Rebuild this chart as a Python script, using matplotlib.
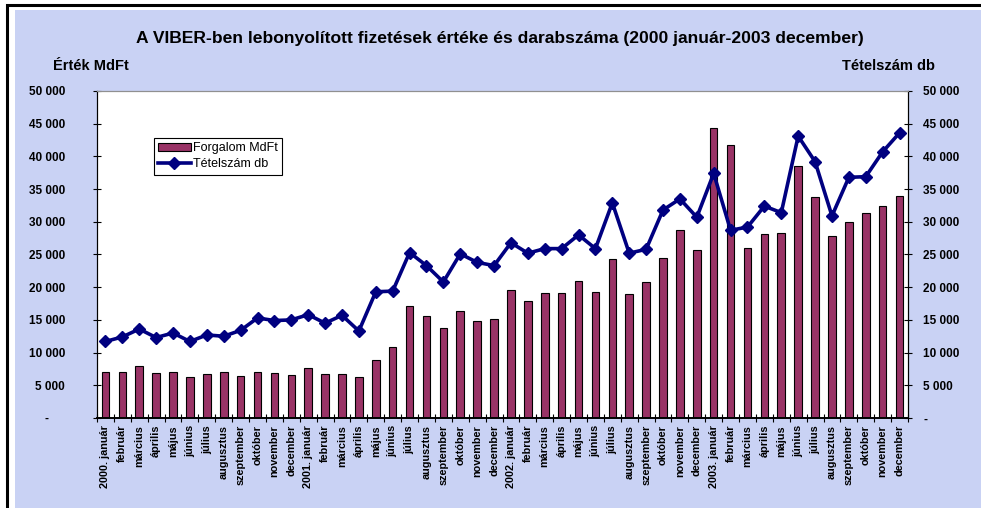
import numpy as np
import matplotlib
matplotlib.use("Agg")
import matplotlib.pyplot as plt
from matplotlib.patches import Rectangle
from matplotlib.ticker import FixedLocator, FuncFormatter

plt.rcParams['font.family'] = ['Liberation Sans', 'DejaVu Sans']

months = ["január", "február", "március", "április", "május", "június",
          "július", "augusztus", "szeptember", "október", "november", "december"]
years = [2000, 2001, 2002, 2003]
labels = []
for y in years:
    for i, m in enumerate(months):
        labels.append(f"{y}. {m}" if i == 0 else m)

# Forgalom MdFt (bars)
forgalom = [7000, 7000, 7900, 6900, 7000, 6300, 6700, 7100, 6400, 7000, 6900, 6600,
            7700, 6700, 6700, 6200, 8800, 10900, 17200, 15600, 13700, 16400, 14900, 15200,
            19500, 17900, 19100, 19100, 20900, 19300, 24300, 18900, 20800, 24500, 28800, 25700,
            44400, 41800, 26000, 28100, 28300, 38500, 33800, 27900, 30000, 31400, 32400, 33900]

# Tételszám db (line)
tetelszam = [11700, 12400, 13600, 12300, 13000, 11700, 12700, 12500, 13400, 15300, 14900, 15000,
             15800, 14500, 15700, 13300, 19300, 19400, 25300, 23300, 20800, 25100, 23800, 23300,
             26800, 25200, 25900, 25900, 28000, 25900, 32900, 25200, 25800, 31800, 33500, 30700,
             37400, 28700, 29200, 32400, 31400, 43100, 39200, 30900, 36800, 36900, 40700, 43600]

W, H = 981, 508
fig = plt.figure(figsize=(W / 100, H / 100), dpi=100)
fig.patch.set_facecolor("white")

# outer frame and background
fig.patches.append(Rectangle((15 / W, 0), 1, 1 - 10 / H, transform=fig.transFigure,
                             facecolor="#c9d2f4", edgecolor="none", zorder=-2))
fig.patches.append(Rectangle((7 / W, -0.1), 1.2, 1 - 5 / H + 0.1, transform=fig.transFigure,
                             fill=False, edgecolor="black", linewidth=2.2, zorder=-1))

ax = fig.add_axes([97 / W, 1 - 418 / H, (908 - 97) / W, (418 - 91) / H])
ax.set_facecolor("white")
x = np.arange(len(labels))
bars = ax.bar(x, forgalom, width=0.45, color="#993366", edgecolor="black", linewidth=0.8,
              label="Forgalom MdFt", zorder=2)
ax.set_xlim(-0.5, len(labels) - 0.5)
ax.set_ylim(0, 50000)

ax2 = ax.twinx()
line, = ax2.plot(x, tetelszam, color="#000080", linewidth=2.6, marker="D", markersize=6.5,
                 label="Tételszám db", zorder=3)
ax2.set_ylim(0, 50000)

yt = np.arange(0, 50001, 5000)
fmt_left = FuncFormatter(lambda v, p: "-     " if v == 0 else f"{int(v):,}".replace(",", " "))
fmt_right = FuncFormatter(lambda v, p: "-" if v == 0 else f"{int(v):,}".replace(",", " "))
ax.set_yticks(yt)
ax.yaxis.set_major_formatter(fmt_left)
ax2.set_yticks(yt)
ax2.yaxis.set_major_formatter(fmt_right)
ax.tick_params(axis="y", direction="inout", length=6, width=0.8, pad=20,
               labelsize=8.5)
ax2.tick_params(axis="y", direction="inout", length=6, width=0.8, pad=8,
                labelsize=8.5)
for t in ax.get_yticklabels() + ax2.get_yticklabels():
    t.set_fontweight("bold")

ax.set_xticks(x)
ax.set_xticklabels(labels, rotation=90, fontsize=7.8, fontweight="bold")
ax.tick_params(axis="x", which="major", length=0, pad=5)
ax.xaxis.set_minor_locator(FixedLocator(np.arange(-0.5, len(labels), 1)))
ax.tick_params(axis="x", which="minor", direction="inout", length=6, width=0.8)

for a in (ax, ax2):
    a.spines["top"].set_color("#909090")
    a.spines["left"].set_color("black")
    a.spines["right"].set_color("black")
    a.spines["bottom"].set_color("black")
    a.spines["bottom"].set_linewidth(1.2)

leg = ax2.legend([bars, line], ["Forgalom MdFt", "Tételszám db"],
                 loc="upper left", bbox_to_anchor=(0.070, 0.856), borderaxespad=0,
                 fancybox=False, edgecolor="black", framealpha=1, fontsize=9,
                 handlelength=2.6, handletextpad=0.2, borderpad=0.35, labelspacing=0.3)
leg.get_frame().set_linewidth(0.8)

fig.text(0.51, 1 - 38 / H,
         "A VIBER-ben lebonyolított fizetések értéke és darabszáma (2000 január-2003 december)",
         ha="center", va="center", fontsize=12.6, fontweight="bold")
fig.text(53 / W, 1 - 66 / H, "Érték MdFt", ha="left", va="center", fontsize=10.5, fontweight="bold")
fig.text(935 / W, 1 - 66 / H, "Tételszám db", ha="right", va="center", fontsize=10.5, fontweight="bold")

fig.savefig("out.png", dpi=100, facecolor=fig.get_facecolor())
